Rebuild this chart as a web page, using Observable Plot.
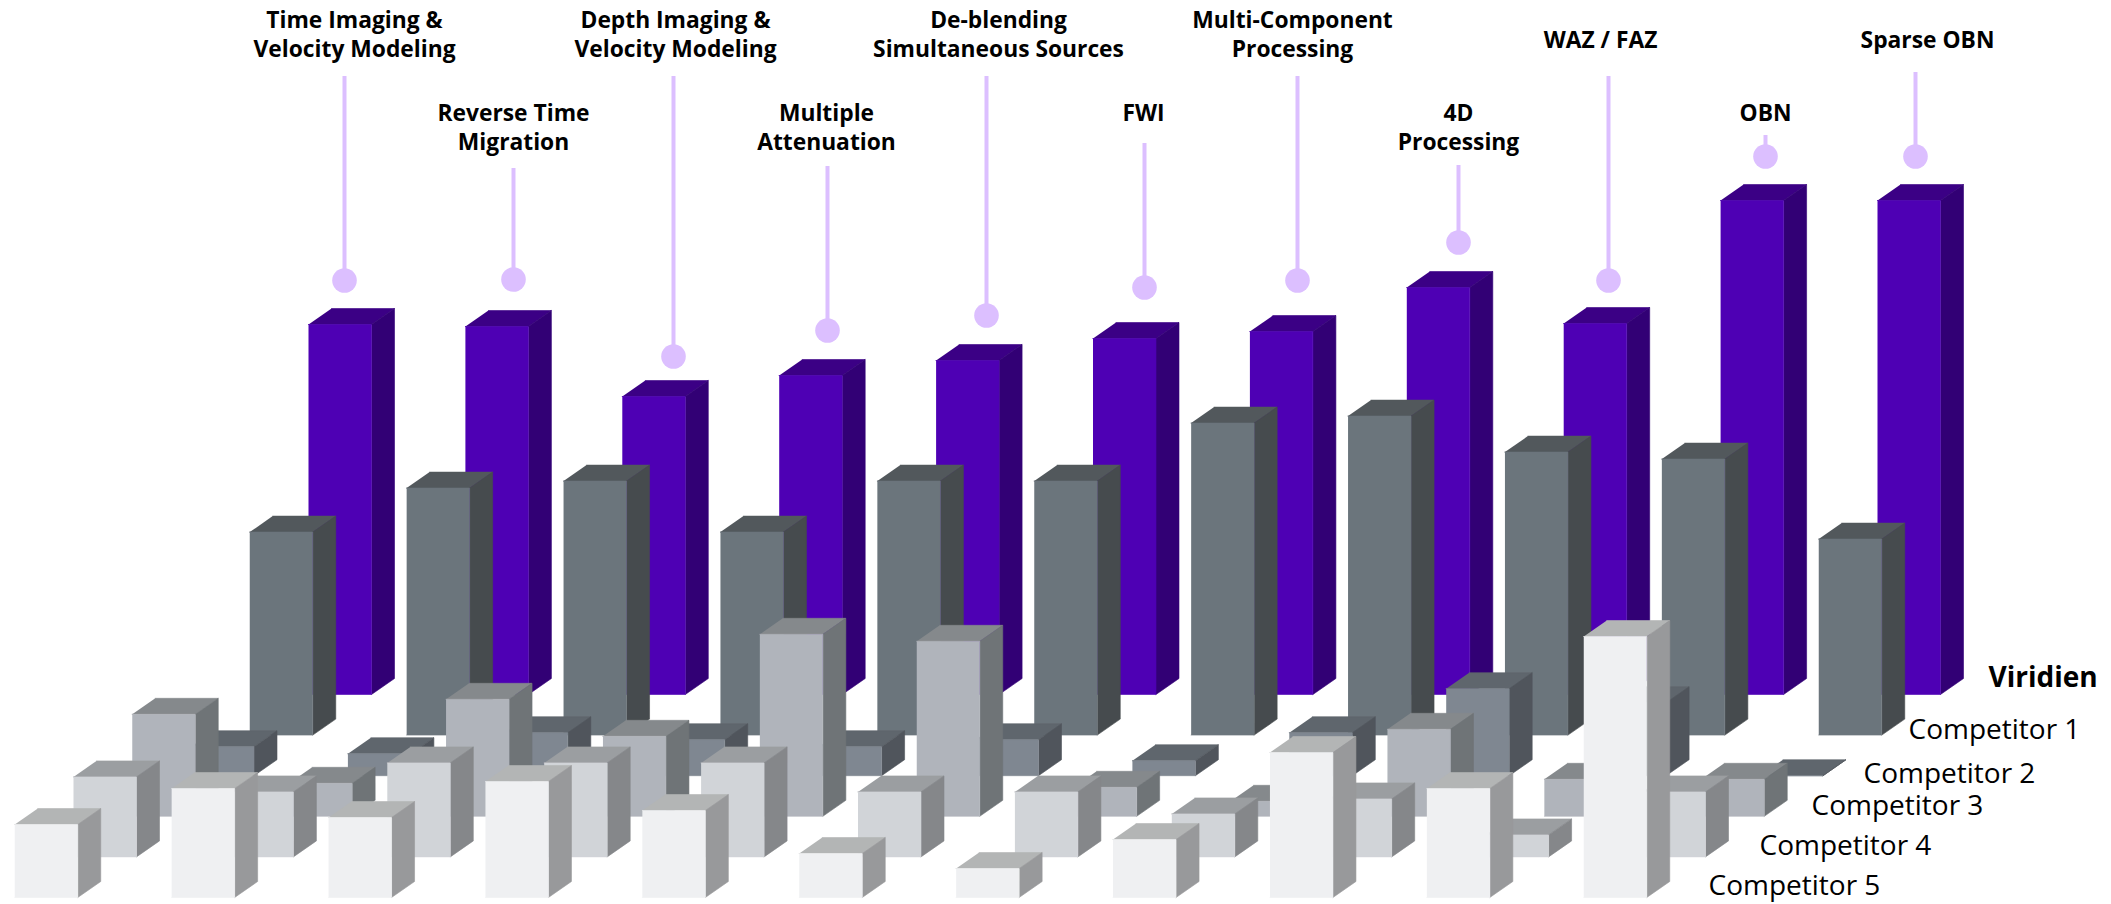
<!DOCTYPE html>
<html><head><meta charset="utf-8">
<style>html,body{margin:0;padding:0;background:#fff}svg{display:block}</style>
<script src="https://cdn.jsdelivr.net/npm/d3@7"></script>
<script src="https://cdn.jsdelivr.net/npm/@observablehq/plot@0.6"></script>
</head><body><div id="chart"></div>
<script>
const categories = ["Time Imaging &\nVelocity Modeling","Reverse Time\nMigration","Depth Imaging &\nVelocity Modeling","Multiple\nAttenuation","De-blending\nSimultaneous Sources","FWI","Multi-Component\nProcessing","4D\nProcessing","WAZ / FAZ","OBN","Sparse OBN"];
const seriesNames = ["Viridien","Competitor 1","Competitor 2","Competitor 3","Competitor 4","Competitor 5"];
// bar heights, one list per company
const viridien    = [370,368,298,319,334,356,363,407,371,494,494];
const competitor1 = [203,247,254,203,254,254,312,319,283,276,196];
const competitor2 = [29,22,43,36,29,36,15,43,87,73,0];
const competitor3 = [102,33,117,80,182,175,29,15,87,37,37];
const competitor4 = [80,65,94,94,94,65,65,43,58,22,65];
const competitor5 = [73,109,80,116,87,44,29,58,145,109,261];
const seriesValues = [viridien,competitor1,competitor2,competitor3,competitor4,competitor5];

// layout of the oblique view: slots along x, value units along y
const W=2111,H=904,slotPx=156.9,x0=308,y0=694;
const shiftX=-58.75/slotPx, shiftY=40.6, barW=63/slotPx, depX=23/slotPx, depY=16;
const fx=p=>(p-x0)/slotPx, fy=p=>y0-p;
const shades=[
 {front:"#4e00b4",side:"#320075",top:"#3b0085"},
 {front:"#6b757c",side:"#464b4e",top:"#52585c"},
 {front:"#7f8791",side:"#50555c",top:"#5f666d"},
 {front:"#b0b4bb",side:"#6f7477",top:"#85898c"},
 {front:"#d1d4d8",side:"#85878a",top:"#9b9ea1"},
 {front:"#eff0f2",side:"#98999b",top:"#b3b5b5"}];

const marks=[];
seriesValues.forEach((vals,s)=>{
  const faces=[];
  vals.forEach((v,i)=>{
    const x=i+s*shiftX, b=-s*shiftY, t=b+v;
    const add=(face,pts)=>pts.forEach(([px,py])=>faces.push({id:i+"-"+face,face,x:px,y:py}));
    add("top",[[x,t],[x+barW,t],[x+barW+depX,t+depY],[x+depX,t+depY]]);
    add("side",[[x+barW,b],[x+barW+depX,b+depY],[x+barW+depX,t+depY],[x+barW,t]]);
    add("front",[[x,b],[x+barW,b],[x+barW,t],[x,t]]);
  });
  ["top","side","front"].forEach(f=>{
    marks.push(Plot.line(faces.filter(d=>d.face===f),{x:"x",y:"y",z:"id",fill:shades[s][f],stroke:shades[s][f],strokeWidth:0.6,curve:"linear"}));
  });
});

// leader lines and labels of the rear row
const leaderX=[344,513,673,827,986,1144,1297,1458,1608,1765,1915];
const leaderTop=[76,168,76,166,76,143,76,165,76,135,72];
const dotY=[280,279,356,330,315,287,280,242,280,156,156];
const labelX=[354,513,675,826,998,1143,1292,1458,1600,1765,1927];
const labelY=[33,126,33,126,33,111,33,126,38,111,38];
const leaders=categories.map((c,i)=>({c,x:fx(leaderX[i]),top:fy(leaderTop[i]),dot:fy(dotY[i]),lx:fx(labelX[i]),ly:fy(labelY[i])}));
marks.push(Plot.ruleX(leaders,{x:"x",y1:"top",y2:"dot",stroke:"#dcbfff",strokeWidth:4}));
marks.push(Plot.dot(leaders,{x:"x",y:"dot",r:12.3,fill:"#dcbfff"}));
marks.push(Plot.text(leaders,{x:"lx",y:"ly",text:"c",fontFamily:"Open Sans",fontWeight:700,fontSize:22.8,lineHeight:1.26,fill:"#000",textAnchor:"middle",lineAnchor:"middle"}));

const nameX=[1988,1908,1863,1811,1759,1708];
const nameY=[678,730,774,806,846,886];
const names=seriesNames.map((n,i)=>({n,x:fx(nameX[i]),y:fy(nameY[i]),b:i===0}));
marks.push(Plot.text(names.filter(d=>d.b),{x:"x",y:"y",text:"n",fontFamily:"Open Sans",fontWeight:700,fontSize:28,fill:"#000",textAnchor:"start",lineAnchor:"middle"}));
marks.push(Plot.text(names.filter(d=>!d.b),{x:"x",y:"y",text:"n",fontFamily:"Open Sans",fontWeight:400,fontSize:28,fill:"#000",textAnchor:"start",lineAnchor:"middle"}));

const chart=Plot.plot({width:W,height:H,margin:0,
  x:{domain:[fx(0),fx(W)],range:[0,W],axis:null},
  y:{domain:[fy(H),fy(0)],range:[H,0],axis:null},
  style:{background:"#fff",overflow:"visible"},
  marks});
document.getElementById("chart").append(chart);
</script></body></html>
